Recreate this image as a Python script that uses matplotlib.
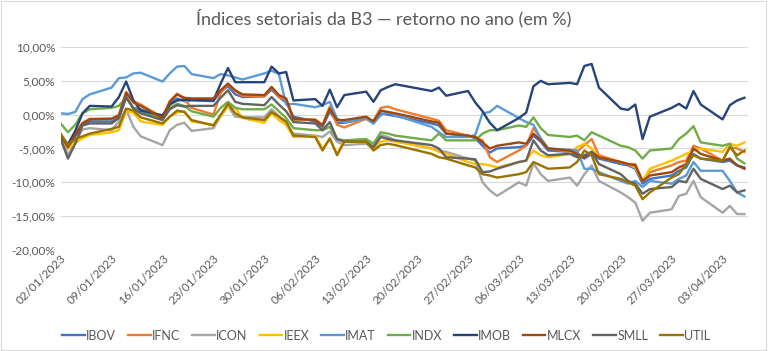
import matplotlib
matplotlib.use("Agg")
import matplotlib.pyplot as plt
import matplotlib.dates as mdates
from matplotlib.patches import Rectangle
from matplotlib.ticker import FuncFormatter, MultipleLocator
import pandas as pd

plt.rcParams["font.family"] = ["Lato", "DejaVu Sans"]

# trading days shown (Carnival 20-21/02 closed)
dates = pd.to_datetime([
    "2023-01-02", "2023-01-03", "2023-01-04", "2023-01-05", "2023-01-06",
    "2023-01-09", "2023-01-10", "2023-01-11", "2023-01-12", "2023-01-13",
    "2023-01-16", "2023-01-17", "2023-01-18", "2023-01-19", "2023-01-20",
    "2023-01-23", "2023-01-24", "2023-01-25", "2023-01-26", "2023-01-27",
    "2023-01-30", "2023-01-31", "2023-02-01", "2023-02-02", "2023-02-03",
    "2023-02-06", "2023-02-07", "2023-02-08", "2023-02-09", "2023-02-10",
    "2023-02-13", "2023-02-14", "2023-02-15", "2023-02-16", "2023-02-17",
    "2023-02-22", "2023-02-23", "2023-02-24",
    "2023-02-27", "2023-02-28", "2023-03-01", "2023-03-02", "2023-03-03",
    "2023-03-06", "2023-03-07",
    "2023-03-08", "2023-03-09", "2023-03-10",
    "2023-03-13", "2023-03-14", "2023-03-15", "2023-03-16", "2023-03-17",
    "2023-03-20", "2023-03-21", "2023-03-22", "2023-03-23", "2023-03-24",
    "2023-03-27", "2023-03-28", "2023-03-29", "2023-03-30", "2023-03-31",
    "2023-04-03", "2023-04-04", "2023-04-05", "2023-04-06",
])

ibov = [-3.3, -5.0, -3.2, -1.5, -1.0, -1.0, -0.5, 2.5, 1.0, 0.8,
        -0.5, 1.6, 2.4, 2.0, 2.1, 2.0, 3.4, 4.2, 3.0, 2.6,
        2.7, 3.7, 2.6, 1.8, -0.3,
        -1.0, -1.8, 0.5, -1.2, -1.2, -0.6, -1.3, 0.2, 0.0, -0.2,
        -1.3, -1.6, -2.8, -3.1, -3.5, -4.6, -5.6, -5.0, -4.8, -4.6,
        -3.1, -4.0, -5.3, -5.5, -6.0, -6.5, -5.8, -6.5,
        -7.3, -7.5, -8.0, -10.2, -9.5, -9.0, -8.3, -7.8, -5.8, -6.5,
        -7.0, -6.8, -7.5, -7.8]
ifnc = [-3.0, -4.6, -2.8, -1.2, -0.6, -0.6, 0.0, 3.4, 2.0, 1.5,
        -0.4, 2.0, 3.1, 2.3, 1.0, 0.0, 3.2, 4.5, 3.5, 2.8,
        2.7, 4.0, 2.6, 2.2, -0.8,
        -0.7, -1.5, 1.2, -1.5, -1.9, -0.6, -0.9, 1.0, 1.2, 0.8,
        -0.6, -0.9, -2.3, -3.1, -3.3, -3.8, -6.3, -7.0, -5.3, -4.6,
        -2.0, -3.5, -5.0, -5.5, -5.5, -4.5, -3.6, -6.0,
        -7.0, -7.3, -7.3, -9.8, -8.5, -7.5, -7.0, -6.8, -4.6, -5.0,
        -6.8, -4.8, -5.0, -5.5]
icon = [-3.0, -6.0, -4.0, -2.2, -2.0, -2.3, -1.0, 0.8, -1.8, -3.2,
        -4.5, -2.3, -1.5, -1.2, -2.4, -2.0, -0.2, 1.3, -0.3, -0.4,
        -0.4, 0.8, -0.2, -1.5, -2.8,
        -3.1, -3.3, -2.5, -4.0, -4.5, -4.3, -5.0, -3.0, -3.3, -3.8,
        -5.0, -5.3, -5.5, -6.5, -6.8, -10.0, -11.2, -12.0, -10.0, -10.5,
        -7.2, -8.8, -9.8, -9.3, -10.5, -8.8, -7.5, -9.8,
        -11.5, -12.2, -13.0, -15.7, -14.5, -14.0, -12.0, -11.7, -9.8, -12.2,
        -14.5, -13.5, -14.7, -14.7]
ieex = [-3.0, -5.0, -4.2, -3.5, -3.0, -2.6, -2.3, 0.5, 0.3, -1.0,
        -1.5, -0.3, 0.3, 0.5, -1.0, -1.5, -0.2, 1.2, 1.0, -0.5,
        -1.2, 0.2, -0.8, -1.5, -3.3,
        -3.1, -5.0, -3.6, -5.8, -3.8, -3.8, -5.0, -4.0, -3.8, -4.0,
        -5.0, -5.5, -5.8, -7.0, -7.3, -7.3, -7.5, -7.8, -7.0, -6.8,
        -5.3, -6.0, -6.3, -5.8, -4.8, -4.3, -5.0, -6.3,
        -7.0, -7.3, -7.8, -9.8, -8.0, -6.8, -6.3, -5.8, -5.3, -5.0,
        -5.5, -4.3, -4.6, -4.1]
imat = [0.2, 0.1, 0.4, 2.3, 3.0, 4.0, 5.4, 5.5, 6.1, 6.2,
        4.9, 6.1, 7.1, 7.2, 6.0, 5.4, 6.0, 5.8, 5.5, 5.2,
        6.1, 6.5, 6.0, 1.5, 1.6,
        1.1, 1.4, 1.9, -0.6, -1.1, -0.6, -1.3, -0.1, 0.4, -0.1,
        -1.8, -2.6, -3.3, -3.3, -3.0, 0.2, 0.4, 1.3, -0.5, -1.1,
        -1.5, -3.5, -5.0, -5.2, -5.3, -8.0, -8.0, -8.5,
        -9.8, -10.2, -9.8, -10.7, -9.8, -10.2, -9.5, -9.0, -7.0, -8.3,
        -8.3, -9.8, -11.5, -12.1]
indx = [-1.3, -2.6, -1.5, 0.2, 0.8, 1.0, 1.3, 2.5, 1.0, 0.4,
        -0.5, 1.0, 1.6, 1.3, 0.5, -0.3, 1.0, 1.9, 1.0, 0.8,
        0.8, 1.5, 0.5, -0.5, -2.0,
        -2.3, -2.3, -1.8, -3.6, -3.8, -3.6, -4.3, -2.6, -2.8, -3.1,
        -3.8, -2.8, -3.8, -3.8, -3.8, -2.8, -2.3, -2.3, -1.6, -1.8,
        -0.4, -2.0, -3.0, -3.3, -3.1, -3.8, -2.6, -3.1,
        -4.6, -4.8, -5.3, -6.5, -5.3, -5.0, -3.6, -2.8, -1.7, -4.1,
        -4.6, -4.3, -6.5, -7.2]
imob = [-3.0, -4.4, -2.4, 0.2, 1.3, 1.2, 2.6, 4.9, 2.1, 0.6,
        -0.1, 1.5, 2.1, 2.2, 2.2, 2.1, 4.6, 6.9, 4.8, 4.8,
        4.8, 7.1, 6.1, 6.3, 2.1,
        2.3, 1.3, 3.7, 1.1, 2.9, 3.4, 1.9, 3.6, 4.1, 4.5,
        3.5, 4.0, 2.8, 3.5, 1.8, 0.5, -1.2, -2.3, -0.5, 0.3,
        4.2, 5.0, 4.5, 4.7, 4.5, 7.2, 7.5, 4.0,
        0.9, 0.7, 1.5, -3.6, -0.3, 1.0, 1.6, 0.9, 3.5, 1.5,
        -0.7, 1.4, 2.1, 2.5]
mlcx = [-3.1, -4.8, -3.0, -1.3, -0.7, -0.6, -0.2, 3.2, 1.8, 1.3,
        -0.5, 1.9, 3.0, 2.5, 2.4, 2.4, 3.6, 4.6, 3.6, 3.0,
        2.9, 4.1, 2.9, 2.4, -0.6,
        -0.8, -1.6, 0.9, -0.8, -0.8, -0.3, -1.0, 0.6, 0.4, 0.2,
        -1.0, -1.2, -2.8, -3.1, -3.3, -4.1, -5.0, -4.6, -4.1, -4.3,
        -2.8, -3.8, -5.0, -5.3, -5.8, -6.3, -5.5, -6.3,
        -7.0, -7.3, -7.5, -9.8, -9.0, -8.5, -7.8, -7.3, -5.0, -5.8,
        -6.8, -6.5, -7.5, -8.0]
smll = [-3.6, -6.5, -4.3, -1.6, -1.3, -1.3, -0.5, 2.6, 0.9, 0.2,
        -0.8, 0.8, 1.4, 1.2, 1.3, 1.3, 2.5, 3.6, 1.9, 1.6,
        1.4, 2.6, 1.5, 0.5, -1.1,
        -1.3, -2.3, -1.1, -3.6, -4.0, -4.0, -4.8, -3.3, -3.6, -3.8,
        -4.5, -5.0, -6.3, -6.5, -6.6, -8.5, -8.4, -8.0, -7.0, -6.8,
        -3.8, -5.3, -6.0, -5.8, -6.3, -6.0, -5.5, -7.3,
        -8.8, -9.8, -10.2, -11.7, -11.0, -10.7, -9.8, -10.0, -8.0, -9.5,
        -11.0, -10.5, -11.5, -11.2]
util = [-2.8, -4.5, -3.6, -3.2, -2.8, -2.1, -1.8, 0.9, 0.6, -0.4,
        -1.3, -0.3, 0.6, 0.4, -0.8, -1.6, 0.0, 1.6, 0.2, -0.4,
        -0.8, 0.4, -0.3, -1.0, -3.1,
        -3.3, -5.3, -3.5, -6.0, -4.0, -4.0, -5.3, -4.5, -4.3, -4.5,
        -5.8, -6.3, -6.5, -7.5, -7.8, -8.8, -9.0, -9.3, -8.8, -8.5,
        -7.0, -7.5, -8.0, -7.8, -7.0, -5.3, -6.0, -8.8,
        -9.5, -10.0, -10.5, -12.5, -11.5, -9.3, -8.8, -7.3, -6.0, -6.5,
        -6.8, -4.8, -6.0, -5.3]

names = ["IBOV", "IFNC", "ICON", "IEEX", "IMAT", "INDX", "IMOB", "MLCX", "SMLL", "UTIL"]
series = [ibov, ifnc, icon, ieex, imat, indx, imob, mlcx, smll, util]
colors = ["#4472C4", "#ED7D31", "#A5A5A5", "#FFC000", "#5B9BD5",
          "#70AD47", "#264478", "#9E480E", "#636363", "#997300"]

fig = plt.figure(figsize=(7.68, 3.51), dpi=100)
ax = fig.add_axes([0.079, 0.288, 0.895, 0.578])

for name, vals, col in zip(names, series, colors):
    ax.plot(dates, vals, color=col, linewidth=1.7, label=name, solid_joinstyle="round")

ax.set_ylim(-20, 10)
ax.yaxis.set_major_locator(MultipleLocator(5))
ax.yaxis.set_major_formatter(FuncFormatter(lambda v, p: f"{v:.2f}%".replace(".", ",")))
ax.set_xlim(pd.Timestamp("2023-01-02"), pd.Timestamp("2023-04-06") + pd.Timedelta(hours=12))
ax.set_xticks(pd.date_range("2023-01-02", "2023-04-03", freq="7D"))
ax.xaxis.set_major_formatter(mdates.DateFormatter("%d/%m/%Y"))
for lab in ax.get_xticklabels():
    lab.set_rotation(45)
    lab.set_ha("right")
    lab.set_rotation_mode("anchor")

ax.grid(axis="y", color="#D9D9D9", linewidth=0.8)
ax.set_axisbelow(True)
for s in ax.spines.values():
    s.set_visible(False)
ax.tick_params(axis="both", length=0, labelsize=8.5, colors="#595959", pad=4)
ax.tick_params(axis="x", pad=2)

fig.suptitle("Índices setoriais da B3 — retorno no ano (em %)", y=0.975,
             fontsize=13, color="#595959")

fig.legend(loc="lower center", bbox_to_anchor=(0.503, -0.005), ncol=10, frameon=False,
           fontsize=9, handlelength=1.8, handletextpad=0.12, columnspacing=0.95,
           labelcolor="#595959")

fig.patches.append(Rectangle((0.001, 0.002), 0.997, 0.995, transform=fig.transFigure,
                             fill=False, edgecolor="#D9D9D9", linewidth=0.8))

fig.savefig("out.png", dpi=100)
